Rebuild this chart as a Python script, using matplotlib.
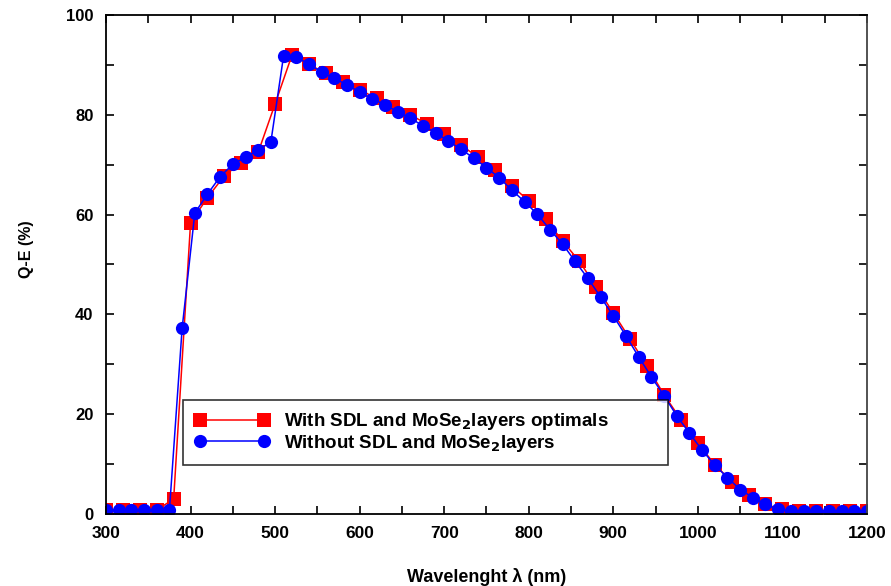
import numpy as np
import matplotlib.pyplot as plt
from matplotlib.ticker import MultipleLocator

plt.rcParams['font.family'] = 'Liberation Sans'
plt.rcParams['font.weight'] = 'bold'
plt.rcParams['mathtext.default'] = 'bf'

# wavelength grids (nm)
wl_with = np.arange(300, 1201, 20)
wl_without = np.arange(300, 1201, 15)

# Q-E (%) with SDL and MoSe2 layers optimals (red squares)
qe_with = [
    0.8, 0.8, 0.8, 0.8, 3.0, 58.4, 63.4, 67.8, 70.4, 72.5,
    82.2, 92.0, 90.1, 88.3, 86.6, 85.0, 83.3, 81.6, 80.0, 78.1,
    76.2, 73.9, 71.5, 68.9, 65.8, 62.7, 59.1, 54.7, 50.6, 45.5,
    40.3, 35.0, 29.6, 23.9, 18.9, 14.2, 9.9, 6.5, 3.8, 1.9,
    0.9, 0.6, 0.5, 0.5, 0.5, 0.5,
]

# Q-E (%) without SDL and MoSe2 layers (blue circles)
qe_without = [
    0.8, 0.8, 0.8, 0.8, 0.8, 0.8, 37.2, 60.3, 64.1, 67.6,
    70.1, 71.5, 72.9, 74.6, 91.8, 91.5, 90.2, 88.5, 87.3, 86.0,
    84.6, 83.2, 82.0, 80.6, 79.3, 77.8, 76.4, 74.7, 73.1, 71.3,
    69.4, 67.4, 64.9, 62.6, 60.1, 57.0, 54.1, 50.6, 47.2, 43.5,
    39.7, 35.7, 31.5, 27.5, 23.7, 19.7, 16.2, 12.8, 9.8, 7.3,
    4.9, 3.3, 1.9, 0.9, 0.6, 0.5, 0.5, 0.5, 0.5, 0.5, 0.5,
]

label_with = r'With SDL and MoSe$_\mathbf{2}$layers optimals'
label_without = r'Without SDL and MoSe$_\mathbf{2}$layers'

fig = plt.figure(figsize=(8.91, 5.86), dpi=100)
ax = fig.add_axes([0.119, 0.1229, 0.854, 0.8515])

ax.plot(wl_with, qe_with, color='#ff0000', linewidth=1.1,
        marker='s', markersize=10, markeredgewidth=0,
        label=label_with)
ax.plot(wl_without, qe_without, color='#0000ff', linewidth=1.1,
        marker='o', markersize=9.5, markeredgewidth=0,
        label=label_without)

ax.set_xlim(300, 1200)
ax.set_ylim(0, 100)

ax.xaxis.set_major_locator(MultipleLocator(100))
ax.xaxis.set_minor_locator(MultipleLocator(50))
ax.yaxis.set_major_locator(MultipleLocator(20))
ax.yaxis.set_minor_locator(MultipleLocator(10))

ax.tick_params(which='both', direction='in', top=True, right=True,
               length=6, width=1.2)
ax.tick_params(axis='x', labelsize=12.5, pad=9)
ax.tick_params(axis='y', labelsize=12, pad=9)

for side in ['left', 'bottom', 'top', 'right']:
    ax.spines[side].set_linewidth(1.3)
ax.spines['right'].set_color('#444444')

ax.set_xlabel('Wavelenght \u03bb (nm)', fontsize=13, fontweight='bold', labelpad=19)
ax.set_ylabel('Q-E (%)', fontsize=11.5, fontweight='bold')
ax.yaxis.set_label_coords(-0.095, 0.53)

leg = ax.legend(loc='lower left', bbox_to_anchor=(0.101, 0.098, 0.637, 0.13),
                mode='expand', numpoints=2, handlelength=4.0, fontsize=13.5,
                frameon=True, fancybox=False, edgecolor='black',
                borderpad=0.6, labelspacing=0.02, handletextpad=0.8,
                borderaxespad=0)
leg.get_frame().set_linewidth(1.2)

plt.savefig('out.png', dpi=100)
plt.close()
